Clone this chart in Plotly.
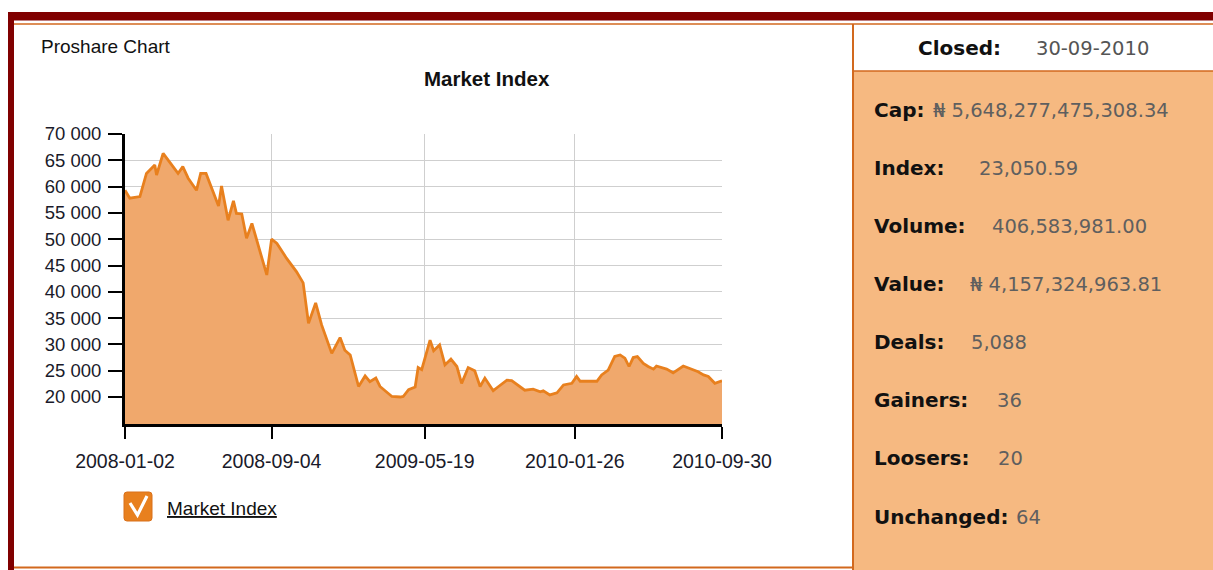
import plotly.graph_objects as go

# ---------------- data ----------------
dates = [
    "2008-01-02", "2008-01-10", "2008-01-27", "2008-02-07", "2008-02-21", "2008-02-24",
    "2008-03-06", "2008-03-17", "2008-03-31", "2008-04-08", "2008-04-17", "2008-05-01",
    "2008-05-08", "2008-05-17", "2008-05-26", "2008-06-07", "2008-06-12", "2008-06-23",
    "2008-07-02", "2008-07-07", "2008-07-16", "2008-07-24", "2008-08-02", "2008-08-10",
    "2008-08-27", "2008-09-04", "2008-09-13", "2008-09-29", "2008-10-16", "2008-10-27",
    "2008-11-05", "2008-11-17", "2008-11-27", "2008-12-14", "2008-12-28", "2009-01-05",
    "2009-01-14", "2009-01-28", "2009-02-08", "2009-02-16", "2009-02-26", "2009-03-05",
    "2009-03-25", "2009-04-08", "2009-04-13", "2009-04-22", "2009-05-03", "2009-05-08",
    "2009-05-14", "2009-05-28", "2009-06-03", "2009-06-13", "2009-06-22", "2009-07-02",
    "2009-07-12", "2009-07-20", "2009-07-31", "2009-08-11", "2009-08-20", "2009-08-28",
    "2009-09-11", "2009-09-20", "2009-10-04", "2009-10-12", "2009-10-18", "2009-11-03",
    "2009-11-17", "2009-11-29", "2009-12-04", "2009-12-15", "2009-12-27", "2010-01-07",
    "2010-01-21", "2010-01-29", "2010-02-04", "2010-03-04", "2010-03-12", "2010-03-23",
    "2010-04-03", "2010-04-12", "2010-04-20", "2010-04-27", "2010-05-04", "2010-05-11",
    "2010-05-21", "2010-05-29", "2010-06-07", "2010-06-12", "2010-06-29", "2010-07-10",
    "2010-07-27", "2010-08-10", "2010-08-21", "2010-08-30", "2010-09-07", "2010-09-18",
    "2010-09-30",
]
index_values = [
    59300, 57800, 58100, 62500, 64100, 62200,
    66300, 64700, 62500, 63800, 61600, 59300,
    62500, 62500, 60000, 56300, 60100, 53600,
    57300, 54900, 54800, 50200, 53000, 49900,
    43200, 50000, 49200, 46400, 43800, 41700,
    34000, 37900, 33700, 28300, 31300, 28900,
    28000, 22000, 24000, 22900, 23600, 22000,
    20100, 20000, 20100, 21400, 21900, 25600,
    25200, 30800, 28800, 29900, 26100, 27200,
    25800, 22600, 25600, 25000, 22000, 23600,
    21200, 22000, 23200, 23100, 22600, 21300,
    21500, 21000, 21200, 20400, 20800, 22300,
    22600, 23900, 23000, 23000, 24200, 25100,
    27700, 28000, 27400, 25800, 27500, 27700,
    26400, 25800, 25300, 25900, 25300, 24600,
    25900, 25300, 24800, 24200, 23900, 22600,
    23100,
]
tick_dates = ["2008-01-02", "2008-09-04", "2009-05-19", "2010-01-26", "2010-09-30"]
y_ticks = [20000, 25000, 30000, 35000, 40000, 45000, 50000, 55000, 60000, 65000, 70000]
y_range = [14870, 70000]

stat_labels = ["Cap:", "Index:", "Volume:", "Value:", "Deals:", "Gainers:", "Loosers:", "Unchanged:"]
stat_values = ["₦ 5,648,277,475,308.34", "23,050.59", "406,583,981.00", "₦ 4,157,324,963.81",
               "5,088", "36", "20", "64"]
closed_label = "Closed:"
closed_value = "30-09-2010"

# ---------------- layout geometry ----------------
# page body margin is removed by a small post script, so figure pixels == window pixels
OFF = 0
PAGE_W, PAGE_H = 1213, 570
W, H = PAGE_W - OFF, PAGE_H - OFF
PL, PR, PT, PB = 125, 722, 134, 424          # plot area in page pixels
L, T = PL - OFF, PT - OFF
R, B = W - (PR - OFF), H - (PB - OFF)
PW, PH = W - L - R, H - T - B

def px(x):
    return (x - OFF - L) / PW

def py(y):
    return (H - B - (y - OFF)) / PH

DARKRED = "#800000"
ORANGE_LINE = "#D2691E"
PANEL = "#F6B981"
LINE = "#E8801E"
FILL = "rgba(240,168,108,1)"

fig = go.Figure()
fig.add_trace(go.Scatter(
    x=dates, y=index_values, mode="lines",
    line=dict(color=LINE, width=2.8),
    fill="tozeroy", fillcolor=FILL,
    hoverinfo="x+y", showlegend=False,
))

shapes = []
def rect(x0, y0, x1, y1, fill, layer="below"):
    shapes.append(dict(type="rect", xref="paper", yref="paper",
                       x0=px(x0), x1=px(x1), y0=py(y1), y1=py(y0),
                       fillcolor=fill, line=dict(width=0), layer=layer))

def hline(x0, x1, y, color, w):
    shapes.append(dict(type="line", xref="paper", yref="paper",
                       x0=px(x0), x1=px(x1), y0=py(y), y1=py(y),
                       line=dict(color=color, width=w), layer="above"))

def vline(x, y0, y1, color, w):
    shapes.append(dict(type="line", xref="paper", yref="paper",
                       x0=px(x), x1=px(x), y0=py(y0), y1=py(y1),
                       line=dict(color=color, width=w), layer="above"))

# right info panel
rect(853, 24, PAGE_W + 4, PAGE_H + 4, PANEL)
rect(853, 24, PAGE_W + 4, 71, "white")
hline(853, PAGE_W + 4, 71, ORANGE_LINE, 1.5)
vline(853, 24, PAGE_H + 4, ORANGE_LINE, 2)
# frame
rect(8, 12, PAGE_W + 4, 20.5, DARKRED, layer="above")
rect(8, 12, 14, PAGE_H + 4, DARKRED, layer="above")
hline(14, PAGE_W + 4, 24, ORANGE_LINE, 1.5)
hline(14, 853, 567.5, ORANGE_LINE, 2)

# legend checkbox (rounded square + check mark)
bx0, by0, bx1, by1, r = 124, 492, 152, 521, 3
path = (f"M {px(bx0 + r)},{py(by0)} L {px(bx1 - r)},{py(by0)} "
        f"Q {px(bx1)},{py(by0)} {px(bx1)},{py(by0 + r)} L {px(bx1)},{py(by1 - r)} "
        f"Q {px(bx1)},{py(by1)} {px(bx1 - r)},{py(by1)} L {px(bx0 + r)},{py(by1)} "
        f"Q {px(bx0)},{py(by1)} {px(bx0)},{py(by1 - r)} L {px(bx0)},{py(by0 + r)} "
        f"Q {px(bx0)},{py(by0)} {px(bx0 + r)},{py(by0)} Z")
shapes.append(dict(type="path", xref="paper", yref="paper", path=path,
                   fillcolor=LINE, line=dict(color="#D9701A", width=1), layer="above"))
check = f"M {px(130)},{py(503)} L {px(137.5)},{py(515)} L {px(147)},{py(496)}"
shapes.append(dict(type="path", xref="paper", yref="paper", path=check,
                   line=dict(color="white", width=3.2), layer="above"))

annotations = []
def text(x, y, s, size, color, family, bold=False, anchor="left"):
    annotations.append(dict(xref="paper", yref="paper", x=px(x), y=py(y),
                            text=f"<b>{s}</b>" if bold else s, showarrow=False,
                            xanchor=anchor, yanchor="middle",
                            font=dict(size=size, color=color, family=family)))

ARIAL = "Liberation Sans, Arial, sans-serif"
VERD = "DejaVu Sans, Verdana, sans-serif"

text(39, 46, "Proshare Chart", 19, "#111111", ARIAL)
text(487, 78, "Market Index", 20.5, "#111111", ARIAL, bold=True, anchor="center")
text(165, 508, "<u>Market Index</u>", 19, "#111111", ARIAL)

text(916, 48, closed_label, 20, "#111111", VERD, bold=True)
text(1034, 48, closed_value, 19.5, "#555555", VERD)

row_y = [110, 168, 226, 284, 342, 400, 458, 517]
value_x = [931, 977, 990, 968, 969, 995, 996, 1014]
for lab, val, yy, vx in zip(stat_labels, stat_values, row_y, value_x):
    text(872, yy, lab, 20, "#111111", VERD, bold=True)
    text(vx, yy, val, 19.5, "#5f5f5f", VERD)

fig.update_layout(
    width=W, height=H, autosize=False,
    margin=dict(l=L, r=R, t=T, b=B, pad=0),
    paper_bgcolor="white", plot_bgcolor="white",
    separators=". ",
    shapes=shapes, annotations=annotations,
    showlegend=False,
    xaxis=dict(
        type="date", range=[tick_dates[0], tick_dates[-1]],
        tickvals=tick_dates, ticktext=tick_dates,
        showgrid=True, gridcolor="#cfcfcf", gridwidth=1,
        showline=True, linecolor="#000000", linewidth=3,
        ticks="outside", ticklen=12, tickwidth=1.5, tickcolor="#000000",
        tickfont=dict(family=ARIAL, size=19.5, color="#1a1a2a"),
        ticklabelstandoff=6, zeroline=False, fixedrange=True,
    ),
    yaxis=dict(
        range=y_range, tickvals=y_ticks, tickformat=",d",
        showgrid=True, gridcolor="#cfcfcf", gridwidth=1,
        showline=True, linecolor="#000000", linewidth=3,
        ticks="outside", ticklen=14, tickwidth=1.5, tickcolor="#000000",
        tickfont=dict(family=ARIAL, size=18.5, color="#1a1a2a"),
        ticklabelstandoff=3, zeroline=False, fixedrange=True,
    ),
)

fig.write_html(
    "out.html",
    config={"displayModeBar": False},
    post_script="document.body.style.margin='0';document.body.style.overflow='hidden';",
)
